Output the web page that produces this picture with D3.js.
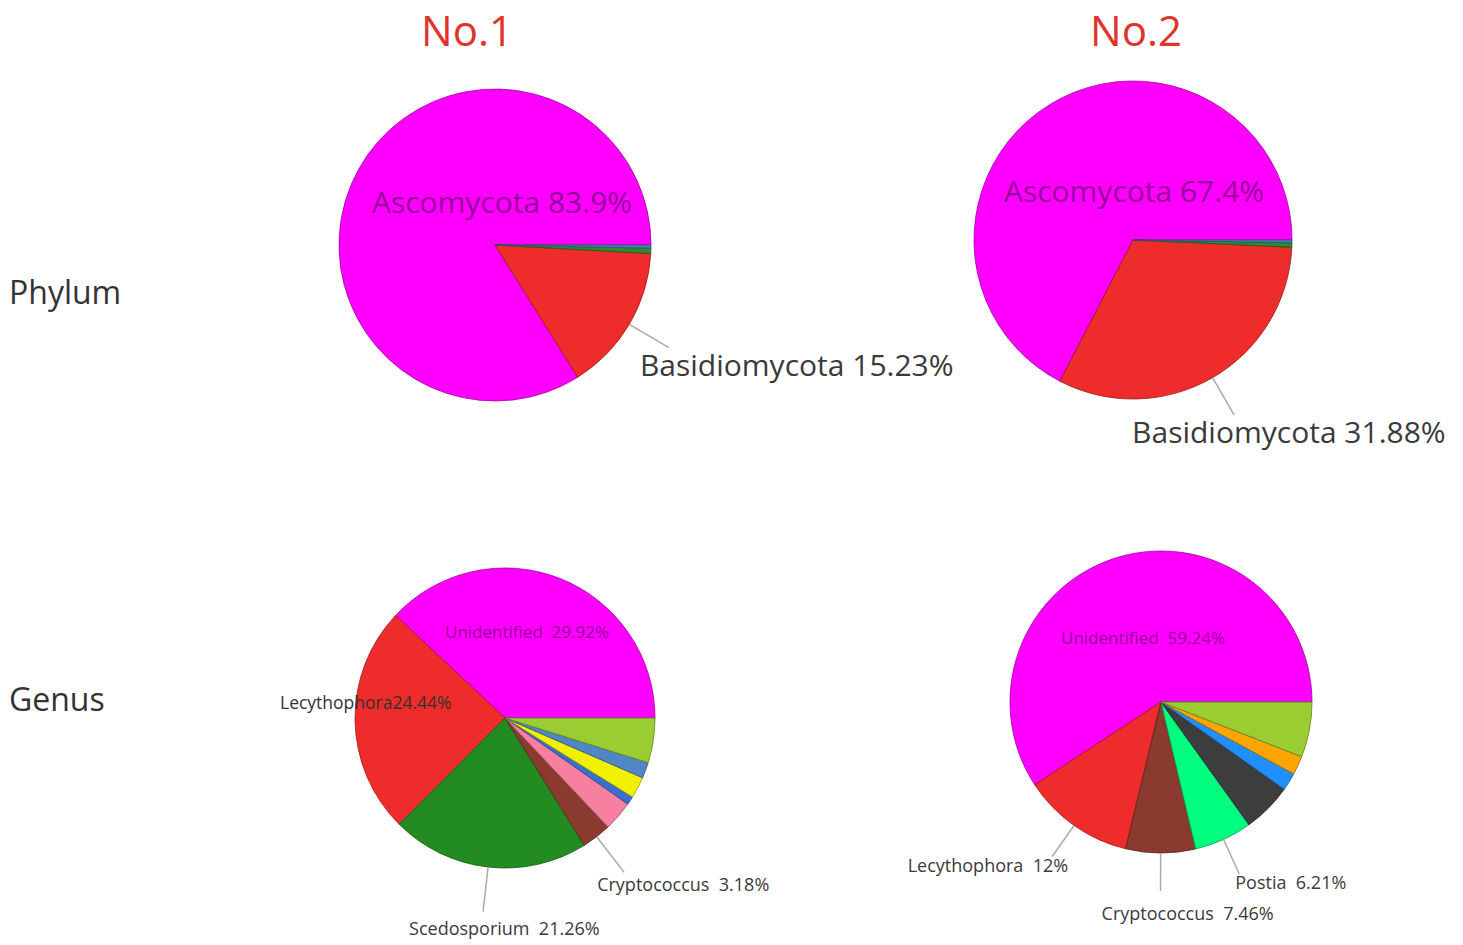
<!DOCTYPE html>
<html>
<head>
<meta charset="utf-8">
<script src="https://cdn.jsdelivr.net/npm/d3@7"></script>
<style>
  body { margin: 0; background: #fff; }
  text { font-family: "Open Sans", "Noto Sans", sans-serif; white-space: pre; }
</style>
</head>
<body>
<svg width="1463" height="945"></svg>
<script>
// column titles and row labels
const columns = ["No.1", "No.2"];
const rows = ["Phylum", "Genus"];

// phylum level
const phylumNames = ["Ascomycota", "Basidiomycota", "Mortierellomycota", "Unidentified"];
const phylumNo1 = [83.9, 15.23, 0.55, 0.32];
const phylumNo2 = [67.4, 31.88, 0.45, 0.27];
const phylumColors = ["#ff00ff", "#ee2c2c", "#2e8b2e", "#4682b4"];

// genus level
const genusNo1Names = ["Unidentified", "Lecythophora", "Scedosporium", "Cryptococcus", "Other a", "Other b", "Other c", "Other d", "Other e"];
const genusNo1 = [37.9, 24.44, 21.26, 3.18, 3.2, 0.9, 2.3, 1.7, 4.8];
const genusNo1Colors = ["#ff00ff", "#ee2c2c", "#228b22", "#8b3a2f", "#f77fa0", "#3a6fd0", "#f0f000", "#4f86c6", "#9acd32"];

const genusNo2Names = ["Unidentified", "Lecythophora", "Cryptococcus", "Postia", "Other a", "Other b", "Other c", "Other d"];
const genusNo2 = [59.24, 12, 7.46, 6.21, 5.3, 1.9, 2.0, 5.9];
const genusNo2Colors = ["#ff00ff", "#ee2c2c", "#8b3a2f", "#00ff7f", "#3d3d3d", "#1e90ff", "#ffa500", "#9acd32"];

const svg = d3.select("svg");

// titles
svg.selectAll(".col").data(columns).enter().append("text")
  .attr("x", (d, i) => [467, 1136][i])
  .attr("y", 46)
  .attr("text-anchor", "middle")
  .attr("font-family", "Liberation Sans, Arial, sans-serif")
  .attr("font-size", 42)
  .attr("fill", "#e0332c")
  .text(d => d);

svg.selectAll(".row").data(rows).enter().append("text")
  .attr("x", 9)
  .attr("y", (d, i) => [304, 711][i])
  .attr("font-size", 32)
  .attr("fill", "#333")
  .text(d => d);

const pies = [
  { names: phylumNames, values: phylumNo1, colors: phylumColors, cx: 495, cy: 245, r: 156, lead: 46,
    labels: [
      { i: 0, kind: "in", text: "Ascomycota 83.9%", dx: 7, dy: -32, size: 30 },
      { i: 1, kind: "lead", text: "Basidiomycota 15.23%", dx: -29, dy: 28, size: 30 }
    ] },
  { names: phylumNames, values: phylumNo2, colors: phylumColors, cx: 1133, cy: 240, r: 159, lead: 43,
    labels: [
      { i: 0, kind: "in", text: "Ascomycota 67.4%", dx: 1, dy: -38, size: 30 },
      { i: 1, kind: "lead", text: "Basidiomycota 31.88%", dx: -102, dy: 28, size: 30 }
    ] },
  { names: genusNo1Names, values: genusNo1, colors: genusNo1Colors, cx: 505, cy: 718, r: 150, lead: 45,
    labels: [
      { i: 0, kind: "in", text: "Unidentified  29.92%", dx: 22, dy: -80, size: 17 },
      { i: 1, kind: "plain", text: "Lecythophora24.44%", dx: -225, dy: -9, size: 17.5 },
      { i: 2, kind: "lead", text: "Scedosporium  21.26%", dx: -74, dy: 23, size: 18 },
      { i: 3, kind: "lead", text: "Cryptococcus  3.18%", dx: -27, dy: 19, size: 18 }
    ] },
  { names: genusNo2Names, values: genusNo2, colors: genusNo2Colors, cx: 1161, cy: 702, r: 151, lead: 38,
    labels: [
      { i: 0, kind: "in", text: "Unidentified  59.24%", dx: -18, dy: -58, size: 17 },
      { i: 1, kind: "lead", text: "Lecythophora  12%", dx: 16, dy: 15, size: 18, anchor: "end" },
      { i: 2, kind: "lead", text: "Cryptococcus  7.46%", dx: -59, dy: 29, size: 18 },
      { i: 3, kind: "lead", text: "Postia  6.21%", dx: -4, dy: 15, size: 18 }
    ] }
];

// slices run counter-clockwise from 3 o'clock
const pie = d3.pie().sort(null).startAngle(Math.PI / 2).endAngle(Math.PI / 2 - 2 * Math.PI);

pies.forEach(p => {
  const arcs = pie(p.values);
  const g = svg.append("g").attr("transform", `translate(${p.cx},${p.cy})`);
  const arc = d3.arc().innerRadius(0).outerRadius(p.r);

  g.selectAll("path").data(arcs).enter().append("path")
    .attr("d", arc)
    .attr("fill", (d, i) => p.colors[i])
    .attr("stroke", (d, i) => d3.color(p.colors[i]).darker(1.3))
    .attr("stroke-width", 0.8);

  const edge = d3.arc().innerRadius(p.r).outerRadius(p.r);
  const out = d3.arc().innerRadius(p.r + p.lead).outerRadius(p.r + p.lead);

  p.labels.forEach(l => {
    const a = arcs[l.i];
    if (l.kind === "in") {
      g.append("text")
        .attr("x", l.dx).attr("y", l.dy)
        .attr("text-anchor", "middle")
        .attr("font-size", l.size)
        .attr("fill", "#7a0080")
        .attr("fill-opacity", 0.8)
        .text(l.text);
    } else if (l.kind === "plain") {
      g.append("text")
        .attr("x", l.dx).attr("y", l.dy)
        .attr("font-size", l.size)
        .attr("fill", "#333")
        .text(l.text);
    } else {
      const p0 = edge.centroid(a), p1 = out.centroid(a);
      g.append("line")
        .attr("x1", p0[0]).attr("y1", p0[1])
        .attr("x2", p1[0]).attr("y2", p1[1])
        .attr("stroke", "#aaa").attr("stroke-width", 1.5);
      g.append("text")
        .attr("x", p1[0] + l.dx).attr("y", p1[1] + l.dy)
        .attr("text-anchor", l.anchor || "start")
        .attr("font-size", l.size)
        .attr("fill", "#3a3a3a")
        .text(l.text);
    }
  });
});
</script>
</body>
</html>
